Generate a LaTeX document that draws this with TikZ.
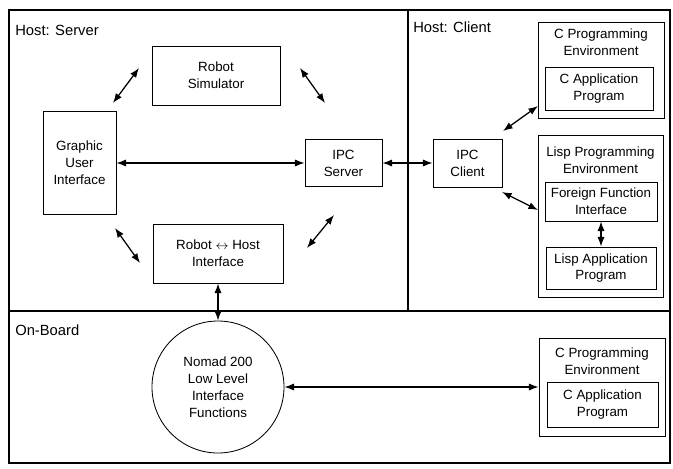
\documentclass[tikz,border=0pt]{standalone}
\usepackage{fontspec}
\setmainfont{Liberation Sans}
\usepackage{tikz}
\usetikzlibrary{arrows,arrows.meta,shapes,positioning}
\tikzstyle{dblarrow} = [line width=0.9pt,<->,>={Latex[length=2.4mm,width=1.8mm]}]
\tikzstyle{unitbox} = [rectangle, draw, line width=0.6pt, inner sep=0pt, align=center, font=\fontsize{9.5}{12}\selectfont]
\tikzstyle{envtext} = [inner sep=0pt, align=center, font=\fontsize{9.5}{12}\selectfont]
\tikzstyle{region} = [line width=1.3pt]
\tikzstyle{regiontext} = [anchor=west, inner sep=0pt, font=\fontsize{10.5}{12}\selectfont]

\begin{document}
\begin{tikzpicture}[x=0.25mm, y=-0.25mm]
    \useasboundingbox (0,0) rectangle (673,468);

    % Regions
    \draw[region] (9,10) rectangle (670,463);
    \draw[region] (9,311) -- (670,311);
    \draw[region] (408,10) -- (408,311);
    \node[regiontext] (server) at (15,30) {Host: Server};
    \node[regiontext] (client) at (413,27) {Host: Client};
    \node[regiontext] (onboard) at (15,330) {On-Board};

    % Host: Server
    \node[unitbox, minimum width=32mm, minimum height=14.75mm] (sim) at (216,75.5) {Robot\\Simulator};
    \node[unitbox, minimum width=18.25mm, minimum height=25.75mm] (gui) at (79.5,163) {Graphic\\User\\Interface};
    \node[unitbox, minimum width=19.25mm, minimum height=11.75mm] (ipcs) at (343.5,163) {IPC\\Server};
    \node[unitbox, minimum width=32.5mm, minimum height=14.75mm] (rhi) at (218,253.5) {Robot $\leftrightarrow$ Host\\Interface};

    % Host: Client
    \node[unitbox, minimum width=17.25mm, minimum height=12mm] (ipcc) at (467.5,163) {IPC\\Client};
    \node[unitbox, minimum width=31.5mm, minimum height=24mm] (cenv) at (601,70) {};
    \node[envtext] (cenvlbl) at (601,42.5) {C Programming\\Environment};
    \node[unitbox, minimum width=27mm, minimum height=10.75mm] (capp) at (599,88.5) {C Application\\Program};
    \node[unitbox, minimum width=31.25mm, minimum height=40.5mm] (lenv) at (600.5,216) {};
    \node[envtext] (lenvlbl) at (600.5,160) {Lisp Programming\\Environment};
    \node[unitbox, minimum width=28mm, minimum height=9.75mm] (ffi) at (601,201.5) {Foreign Function\\Interface};
    \node[unitbox, minimum width=27.5mm, minimum height=10.5mm] (lapp) at (601,268) {Lisp Application\\Program};

    % On-Board
    \node[unitbox, circle, minimum size=33mm] (nomad) at (218,387) {Nomad 200\\Low Level\\Interface\\Functions};
    \node[unitbox, minimum width=31.5mm, minimum height=24.5mm] (benv) at (602,387) {};
    \node[envtext] (benvlbl) at (602,361) {C Programming\\Environment};
    \node[unitbox, minimum width=27.75mm, minimum height=11.25mm] (bapp) at (602.5,404.5) {C Application\\Program};

    % Free arrow ends
    \coordinate (gs1) at (113,103);
    \coordinate (gs2) at (139,68);
    \coordinate (sp1) at (300,68);
    \coordinate (sp2) at (325,103);
    \coordinate (gr1) at (115,228);
    \coordinate (gr2) at (140,263);
    \coordinate (rp1) at (307,248);
    \coordinate (rp2) at (334,215);
    \coordinate (cc1) at (503,131);
    \coordinate (cc2) at (538,106);
    \coordinate (cl1) at (502,192);
    \coordinate (cl2) at (538,210);

    % Links
    \draw[dblarrow] (gs1) -- (gs2);
    \draw[dblarrow] (sp1) -- (sp2);
    \draw[dblarrow] (gr1) -- (gr2);
    \draw[dblarrow] (rp1) -- (rp2);
    \draw[dblarrow] (gui.east) -- (ipcs.west);
    \draw[dblarrow] (ipcs.east) -- (ipcc.west);
    \draw[dblarrow] (cc1) -- (cc2);
    \draw[dblarrow] (cl1) -- (cl2);
    \draw[dblarrow] (ffi.south) -- (lapp.north);
    \draw[dblarrow] (rhi.south) -- (nomad.north);
    \draw[dblarrow] (nomad.east) -- (benv.west);
\end{tikzpicture}
\end{document}
